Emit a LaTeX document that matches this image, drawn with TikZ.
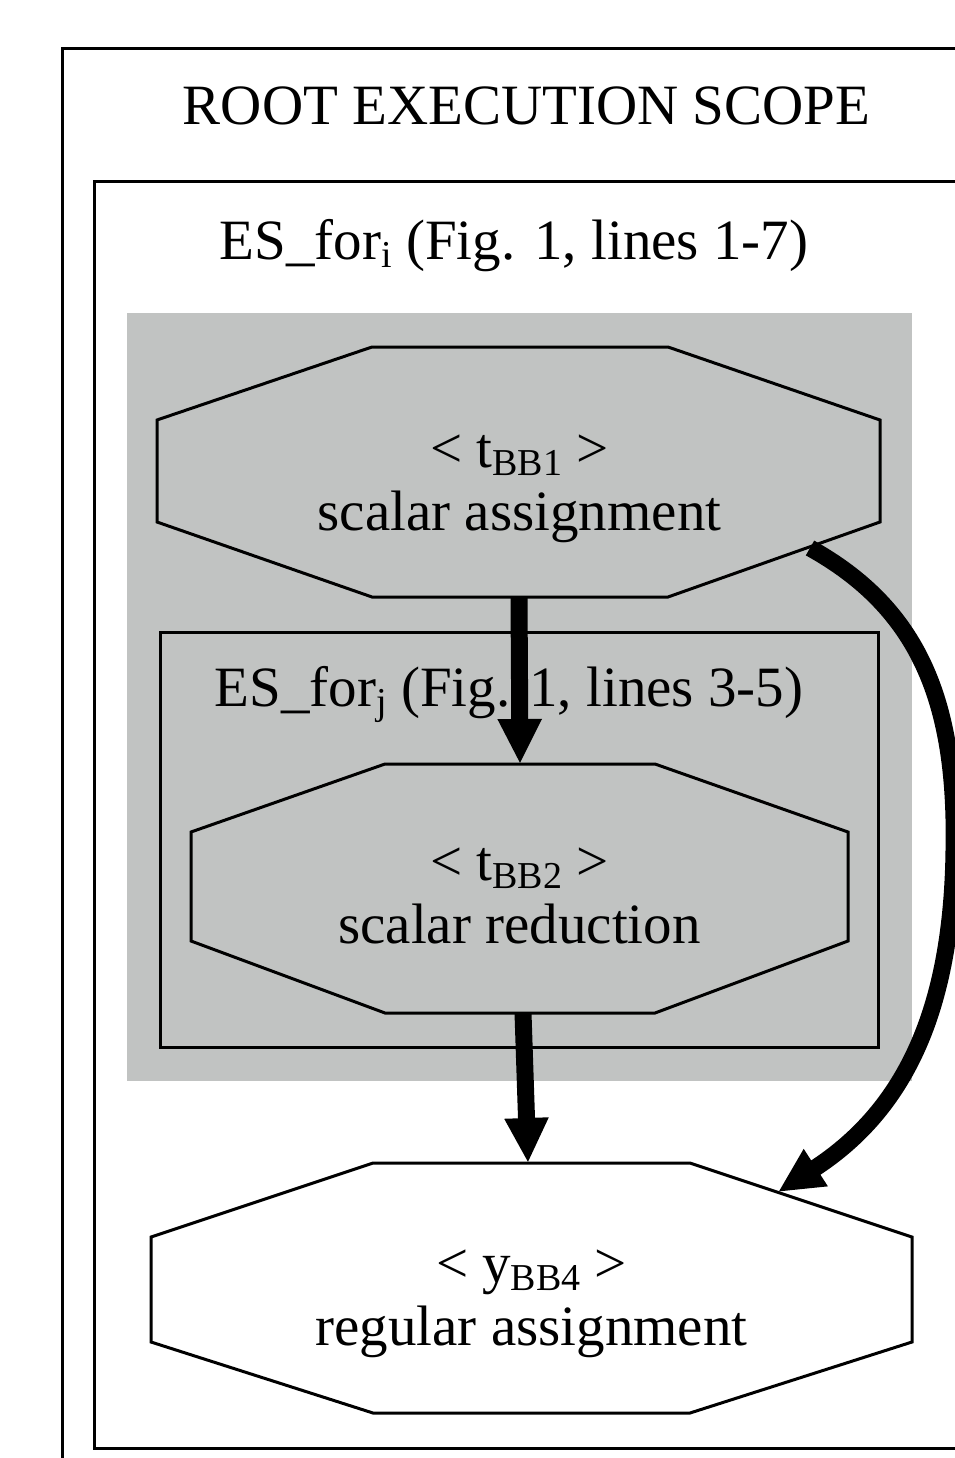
\documentclass[tikz,border=0pt]{standalone}
\usepackage{fontspec}
\setmainfont{Liberation Serif}
\usetikzlibrary{arrows.meta}
\definecolor{esgrey}{RGB}{193,195,194}
\newcommand\sbx[1]{\raisebox{-8pt}{\fontsize{38}{38}\selectfont #1}}
\tikzset{
  frame/.style={draw=black,line width=3pt},
  octa/.style={draw=black,line width=3pt,line join=miter},
  label/.style={inner sep=0pt,anchor=base,align=center,font=\fontsize{57}{63}\selectfont},
  edge/.style={draw=black,line width=17pt,-{Triangle[length=45pt,width=41pt]}},
}
\begin{document}
\begin{tikzpicture}[x=1pt,y=-1pt]
\useasboundingbox (0,0) rectangle (955,1458);
\clip (0,0) rectangle (955,1458);
% outer and inner scopes
\draw[frame] (62,49) rectangle (1100,1600);
\draw[frame] (94,182) rectangle (1100,1448);
\node[label] (root) at (526.5,125) {ROOT EXECUTION SCOPE};
\node[label] (esi) at (514,259) {ES\_for\sbx{i} (Fig. 1, lines 1-7)};
% grey cluster
\fill[esgrey] (127,313) rectangle (912,1081);
\draw[frame] (160,632) rectangle (878,1047);
\node[label] (esj) at (509,706) {ES\_for\sbx{j} (Fig. 1, lines 3-5)};
% octagons
\filldraw[octa,fill=esgrey] (372,347)--(668,347)--(880,420)--(880,522)--(668,597)--(372,597)--(157,522)--(157,420)--cycle;
\filldraw[octa,fill=esgrey] (385,764)--(655,764)--(848,832)--(848,941)--(655,1013)--(385,1013)--(191,941)--(191,832)--cycle;
\filldraw[octa,fill=white] (373,1163)--(690,1163)--(912,1237)--(912,1342)--(690,1413)--(373,1413)--(151,1342)--(151,1237)--cycle;
\node[label] (bb1) at (519.5,530) {{<} t\sbx{BB1} {>}\\scalar assignment};
\node[label] (bb2) at (519.5,943) {{<} t\sbx{BB2} {>}\\scalar reduction};
\node[label] (bb4) at (531.5,1345) {{<} y\sbx{BB4} {>}\\regular assignment};
% connection points
\coordinate (bb1s) at (519,597);
\coordinate (bb2n) at (520,764);
\coordinate (bb2s) at (523,1013);
\coordinate (bb4n) at (528,1163);
\coordinate (bb1e) at (810,548);
\coordinate (bb4e) at (778,1192);
% edges
\draw[edge] (bb1s) -- (bb2n);
\draw[edge] (bb2s) -- (bb4n);
\draw[edge] (bb1e) .. controls (918,608) and (957,700) .. (954,850) .. controls (952,1010) and (905,1110) .. (bb4e);
\end{tikzpicture}
\end{document}
